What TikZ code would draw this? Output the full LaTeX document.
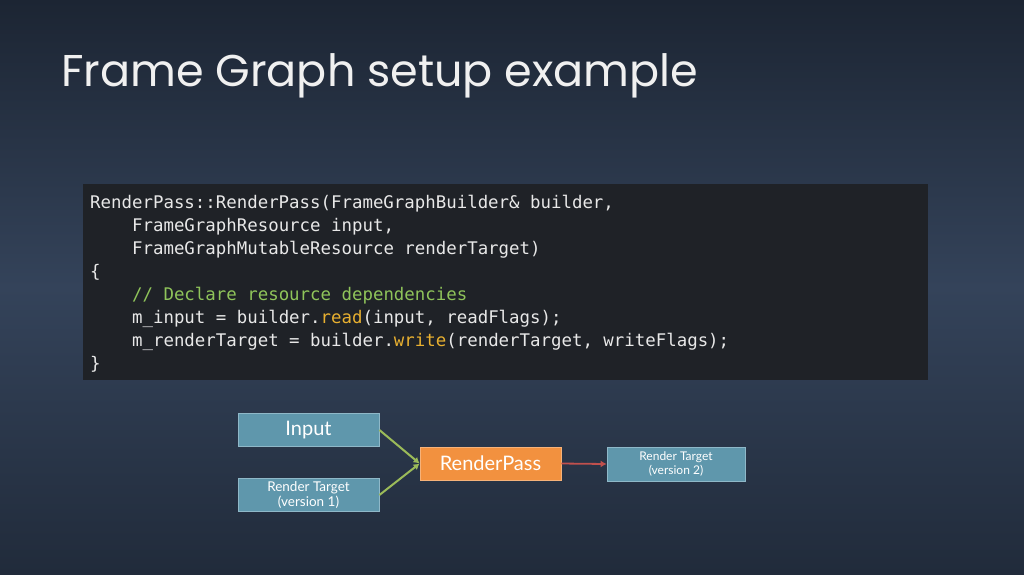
\documentclass[tikz,border=0pt]{standalone}
\usepackage{fontspec}
\setmainfont{Poppins}
\newfontfamily\codefont{DejaVu Sans Mono}
\newfontfamily\boxfont{Lato}
\definecolor{bgA}{HTML}{1C2533}
\definecolor{bgB}{HTML}{34435A}
\definecolor{codebg}{HTML}{1F2227}
\definecolor{codefg}{HTML}{E8E8E8}
\definecolor{cmt}{HTML}{8FC45A}
\definecolor{kw}{HTML}{E8B030}
\definecolor{boxblue}{HTML}{5F97AC}
\definecolor{boxedge}{HTML}{8FB8C8}
\definecolor{orangebox}{HTML}{F2913F}
\definecolor{greenarr}{HTML}{9BBB59}
\definecolor{redarr}{HTML}{C0504D}
\tikzset{
  res/.style={draw=boxedge, line width=0.8pt, fill=boxblue, text=white, minimum width=141pt, minimum height=33pt, inner sep=0pt, align=center, font=\boxfont},
  pass/.style={res, fill=orangebox, draw=orangebox!70!white},
  garrow/.style={draw=greenarr, line width=2pt, -{Latex[length=6pt,width=7pt]}},
  rarrow/.style={draw=redarr, line width=1.8pt, -{Latex[length=6pt,width=7pt]}}
}
\usetikzlibrary{arrows.meta}
\begin{document}
\begin{tikzpicture}[x=1pt,y=-1pt]
\useasboundingbox (0,0) rectangle (1024,574);
\shade[top color=bgA, bottom color=bgA!80!bgB, middle color=bgB] (0,0) rectangle (1024,574);
\node[anchor=base west, text=white!88!gray, font=\fontsize{44.5}{50}\selectfont, inner sep=0pt] (title) at (61,86) {Frame Graph setup example};
\fill[codebg] (83,184) rectangle (928,380);
\node[anchor=north west, inner sep=0pt, text=codefg, font=\codefont\fontsize{17.4}{23}\selectfont, align=left] (code) at (90,195) {%
RenderPass::RenderPass(FrameGraphBuilder\& builder,\\
\hphantom{xxxx}FrameGraphResource input,\\
\hphantom{xxxx}FrameGraphMutableResource renderTarget)\\
\{\\
\hphantom{xxxx}\textcolor{cmt}{// Declare resource dependencies}\\
\hphantom{xxxx}m\_input = builder.\textcolor{kw}{read}(input, readFlags);\\
\hphantom{xxxx}m\_renderTarget = builder.\textcolor{kw}{write}(renderTarget, writeFlags);\\
\}};
\node[res, font=\boxfont\fontsize{20}{22}\selectfont] (in) at (308.5,430) {Input};
\node[res, font=\boxfont\fontsize{13.5}{15}\selectfont] (rt1) at (308.5,495) {Render Target\\(version 1)};
\node[pass, font=\boxfont\fontsize{20}{22}\selectfont] (rp) at (490.5,463.5) {RenderPass};
\node[res, minimum width=138pt, minimum height=34pt, font=\boxfont\fontsize{12}{13.5}\selectfont] (rt2) at (676,464) {Render Target\\(version 2)};
\draw[garrow] (in.east) -- (rp.west);
\draw[garrow] (rt1.east) -- (rp.west);
\draw[rarrow] (rp.east) -- (rt2.west);
\end{tikzpicture}
\end{document}
